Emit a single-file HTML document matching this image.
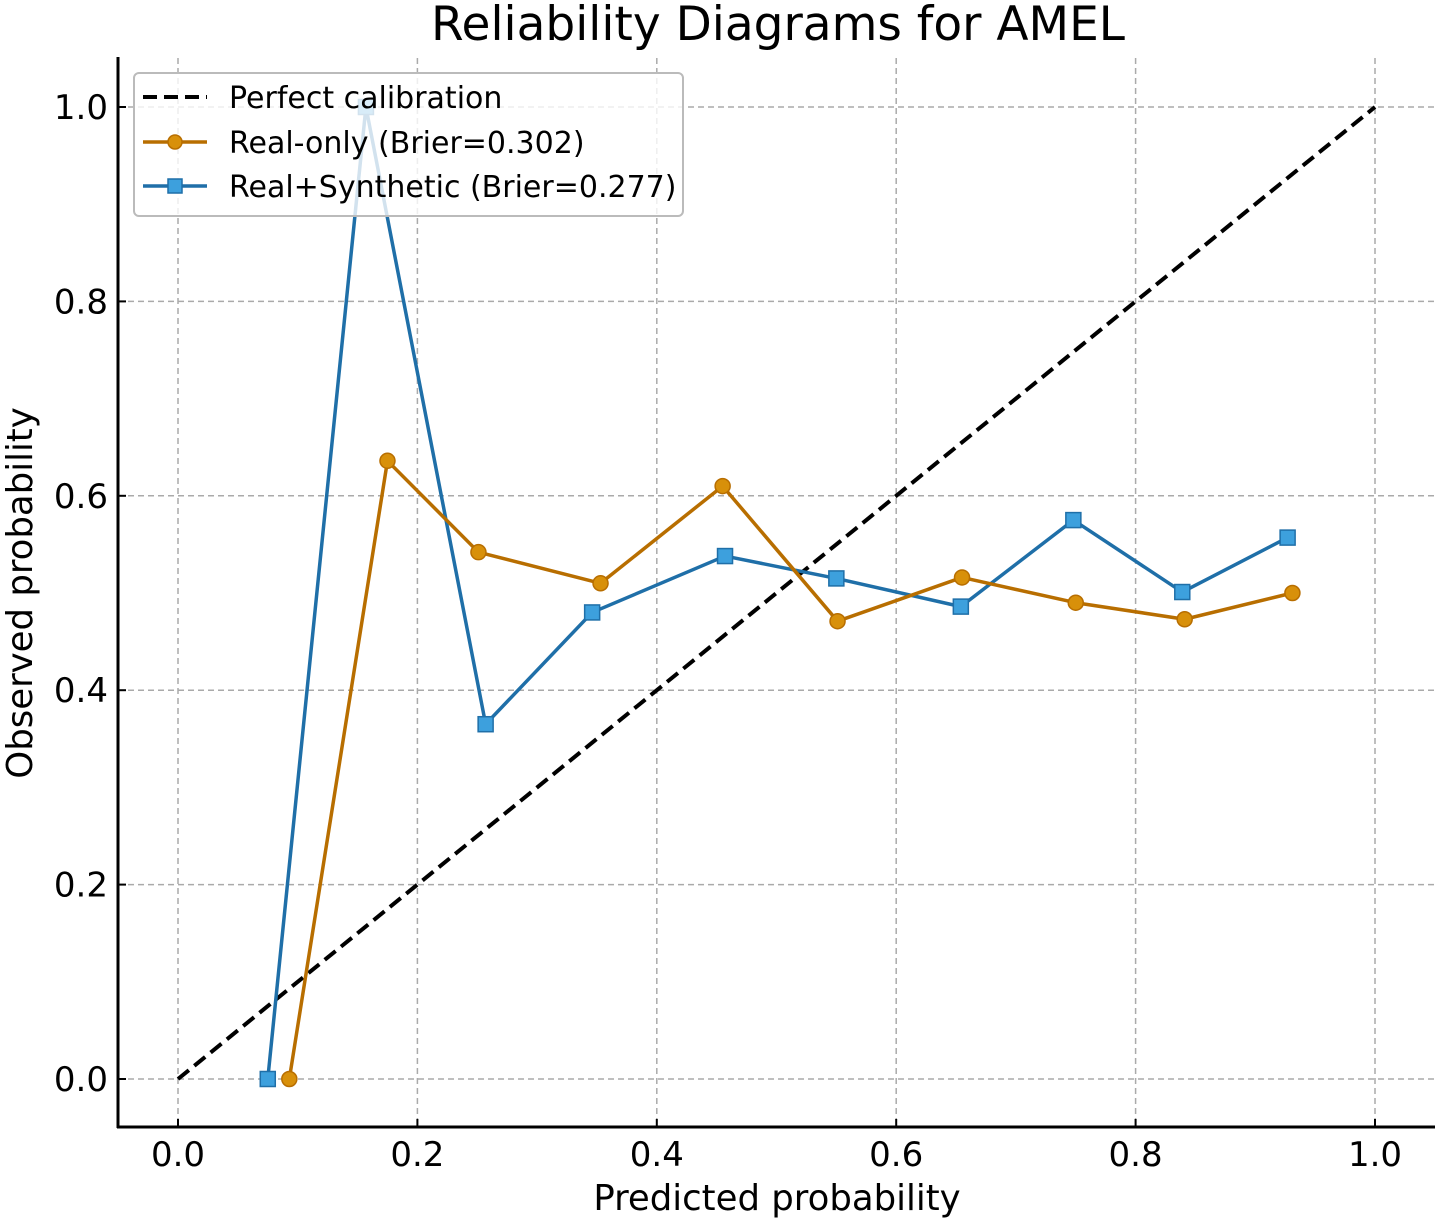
<!DOCTYPE html>
<html><head><meta charset="utf-8"><style>
html,body{margin:0;padding:0;background:#fff}
svg{display:block;font-family:"DejaVu Sans","Liberation Sans",sans-serif}
</style></head><body>
<svg id="chart" width="1441" height="1224" viewBox="0 0 1441 1224" xmlns="http://www.w3.org/2000/svg">
<rect width="1441" height="1224" fill="#fff"/>
<text x="778" y="40" font-size="47" text-anchor="middle" fill="#000">Reliability Diagrams for AMEL</text>
<g id="grid"></g>
<g id="axes"></g>
<g id="series"></g>
<text x="777" y="1210" font-size="35.5" text-anchor="middle" fill="#000">Predicted probability</text>
<text transform="translate(32,593) rotate(-90)" font-size="35.5" text-anchor="middle" fill="#000">Observed probability</text>
<g>
<rect x="134" y="73" width="549" height="143" rx="5" fill="#fff" fill-opacity="0.8" stroke="#bbb" stroke-width="2"/>
<line x1="143" y1="97" x2="207" y2="97" stroke="#000" stroke-width="4" stroke-dasharray="14,7"/>
<text x="229" y="108" font-size="30">Perfect calibration</text>
<line x1="143" y1="142" x2="207" y2="142" stroke="#b86e00" stroke-width="3.5"/>
<circle cx="175" cy="142" r="7" fill="#d8900a" stroke="#b86e00" stroke-width="1.5"/>
<text x="229" y="153" font-size="30">Real-only (Brier=0.302)</text>
<line x1="143" y1="186" x2="207" y2="186" stroke="#1f6fa8" stroke-width="3.5"/>
<rect x="168" y="179" width="14" height="14" fill="#3da0dd" stroke="#1f6fa8" stroke-width="1.5"/>
<text x="229" y="197" font-size="30">Real+Synthetic (Brier=0.277)</text>
</g>
</svg>
<script>
const xTicks=[0,0.2,0.4,0.6,0.8,1.0];
const yTicks=[0,0.2,0.4,0.6,0.8,1.0];
const tickLabels=["0.0","0.2","0.4","0.6","0.8","1.0"];
const realX=[0.093,0.175,0.251,0.353,0.455,0.551,0.655,0.750,0.841,0.931];
const realY=[0.0,0.636,0.542,0.510,0.610,0.471,0.516,0.490,0.473,0.500];
const synX=[0.075,0.157,0.257,0.346,0.457,0.550,0.654,0.748,0.839,0.927];
const synY=[0.0,1.0,0.365,0.480,0.538,0.515,0.486,0.575,0.501,0.557];

const NS="http://www.w3.org/2000/svg";
const X=v=>178+v*1197, Y=v=>1079-v*972;
function mk(tag,attrs,parent){const e=document.createElementNS(NS,tag);for(const k in attrs)e.setAttribute(k,attrs[k]);parent.appendChild(e);return e;}
const grid=document.getElementById('grid'),axes=document.getElementById('axes'),ser=document.getElementById('series');
xTicks.forEach((t,i)=>{
  const g=mk('line',{x1:X(t),x2:X(t),y1:58,y2:1127,stroke:'#aaa','stroke-width':1.5,'stroke-dasharray':'6,4'},grid);
  
  
  mk('line',{x1:X(t),x2:X(t),y1:1127,y2:1119,stroke:'#000','stroke-width':2},axes);
  const l=mk('text',{x:X(t),y:1166,'font-size':34,'text-anchor':'middle'},axes);
  l.textContent=tickLabels[i];
  
  
});
yTicks.forEach((t,i)=>{
  const g=mk('line',{x1:118,x2:1435,y1:Y(t),y2:Y(t),stroke:'#aaa','stroke-width':1.5,'stroke-dasharray':'6,4'},grid);
  
  
  mk('line',{x1:118,x2:126,y1:Y(t),y2:Y(t),stroke:'#000','stroke-width':2},axes);
  const l=mk('text',{x:108,y:Y(t)+12,'font-size':34,'text-anchor':'end'},axes);
  l.textContent=tickLabels[i];
  
  
});
const sx=mk('line',{x1:117,x2:1435,y1:1127,y2:1127,stroke:'#000','stroke-width':3},axes);


const sy=mk('line',{x1:118,x2:118,y1:57,y2:1128,stroke:'#000','stroke-width':3},axes);


const diag=mk('line',{x1:X(0),y1:Y(0),x2:X(1),y2:Y(1),stroke:'#000','stroke-width':4,'stroke-dasharray':'14,7'},ser);


function series(xs,ys,color,fill,shape,name){
  const p=mk('polyline',{points:xs.map((x,i)=>X(x)+','+Y(ys[i])).join(' '),fill:'none',stroke:color,'stroke-width':3.5,'stroke-linejoin':'round'},ser);
  
  
  xs.forEach((x,i)=>{
    let m;
    if(shape==='c') m=mk('circle',{cx:X(x),cy:Y(ys[i]),r:7.5,fill:fill,stroke:color,'stroke-width':1.5},ser);
    else m=mk('rect',{x:X(x)-7.5,y:Y(ys[i])-7.5,width:15,height:15,fill:fill,stroke:color,'stroke-width':1.5},ser);
    
    
  });
}
series(synX,synY,'#1f6fa8','#3da0dd','s','real-synthetic');
series(realX,realY,'#b86e00','#d8900a','c','real-only');
</script>
</body></html>
